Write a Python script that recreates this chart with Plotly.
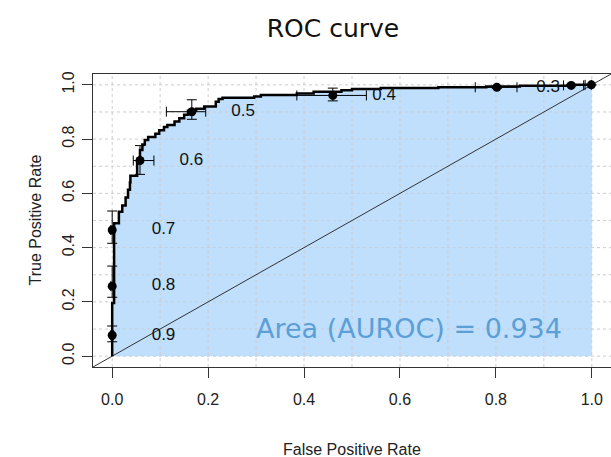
import plotly.graph_objects as go

# ROC curve vertices (step curve, vertical-then-horizontal)
roc_fpr = [0.0, 0.004, 0.014, 0.021, 0.028, 0.033, 0.037, 0.038, 0.052, 0.058, 0.063, 0.068,
           0.075, 0.090, 0.098, 0.108, 0.115, 0.130, 0.140, 0.150, 0.158, 0.175, 0.192, 0.216,
           0.222, 0.230, 0.296, 0.310, 0.385, 0.420, 0.478, 0.500, 0.560, 0.680, 0.780, 0.850,
           0.950, 1.0]
roc_tpr = [0.0, 0.196, 0.490, 0.532, 0.555, 0.585, 0.613, 0.640, 0.665, 0.720, 0.760, 0.780,
           0.797, 0.808, 0.820, 0.833, 0.845, 0.852, 0.865, 0.877, 0.890, 0.905, 0.912, 0.920,
           0.938, 0.948, 0.952, 0.957, 0.963, 0.968, 0.975, 0.980, 0.985, 0.988, 0.991, 0.994,
           0.997, 1.0]

# cutoff points with error bars
cutoffs = [0.9, 0.8, 0.7, 0.6, 0.5, 0.4, 0.3, 0.2, 0.1]
cut_fpr = [0.0, 0.0, 0.0, 0.058, 0.166, 0.460, 0.802, 0.957, 0.999]
cut_tpr = [0.077, 0.258, 0.465, 0.721, 0.901, 0.961, 0.991, 0.998, 1.0]
tpr_err_plus = [0.034, 0.074, 0.070, 0.055, 0.044, 0.027, 0.004, 0.002, 0.0]
tpr_err_minus = [0.024, 0.041, 0.049, 0.051, 0.028, 0.020, 0.004, 0.002, 0.0]
fpr_err_plus = [0.003, 0.003, 0.003, 0.029, 0.029, 0.070, 0.042, 0.026, 0.0]
fpr_err_minus = [0.003, 0.003, 0.003, 0.014, 0.053, 0.075, 0.045, 0.016, 0.013]

auroc = 0.934
tick_vals = [0.0, 0.2, 0.4, 0.6, 0.8, 1.0]
tick_text = ["0.0", "0.2", "0.4", "0.6", "0.8", "1.0"]
grid_vals = [0.0, 0.1, 0.2, 0.3, 0.4, 0.5, 0.6, 0.7, 0.8, 0.9, 1.0]

ax_range = [-0.04, 1.04]
label_offset = 0.107

fig = go.Figure()

# filled area under the curve
fig.add_trace(go.Scatter(
    x=roc_fpr, y=roc_tpr, mode="lines", line=dict(color="rgba(0,0,0,0)", width=0, shape="vh"),
    fill="tozeroy", fillcolor="#BFDFFD", hoverinfo="skip", showlegend=False))

# dotted grid drawn over the fill
gx, gy = [], []
for g in grid_vals:
    gx += [g, g, None, ax_range[0], ax_range[1], None]
    gy += [ax_range[0], ax_range[1], None, g, g, None]
fig.add_trace(go.Scatter(x=gx, y=gy, mode="lines", line=dict(color="#cdcdcd", width=1, dash="dot"),
                         hoverinfo="skip", showlegend=False))

# diagonal reference line
fig.add_trace(go.Scatter(x=ax_range, y=ax_range, mode="lines", line=dict(color="#333", width=1),
                         hoverinfo="skip", showlegend=False))

# ROC curve
fig.add_trace(go.Scatter(
    x=roc_fpr, y=roc_tpr, mode="lines", line=dict(color="black", width=2.5, shape="vh"),
    hoverinfo="skip", showlegend=False))

fig.add_trace(go.Scatter(
    x=cut_fpr, y=cut_tpr, mode="markers",
    marker=dict(color="black", size=9),
    error_y=dict(type="data", symmetric=False, array=tpr_err_plus, arrayminus=tpr_err_minus,
                 color="black", thickness=1, width=5),
    error_x=dict(type="data", symmetric=False, array=fpr_err_plus, arrayminus=fpr_err_minus,
                 color="black", thickness=1, width=5),
    showlegend=False))

# cutoff labels (those whose position falls outside the plot are clipped, as in the original)
lab_x, lab_y, lab_t = [], [], []
for c, fx, ty in zip(cutoffs, cut_fpr, cut_tpr):
    if fx + label_offset + 0.02 <= ax_range[1]:
        lab_x.append(fx + label_offset)
        lab_y.append(ty)
        lab_t.append(f"{c:.1f}")
fig.add_trace(go.Scatter(
    x=lab_x, y=lab_y, mode="text", text=lab_t, textposition="middle center",
    textfont=dict(family="Liberation Sans, Arial", size=17, color="#111"),
    cliponaxis=True, showlegend=False))

axis_common = dict(range=ax_range, tickvals=tick_vals, ticktext=tick_text, showgrid=False,
                   zeroline=False, showline=True, mirror=True, linecolor="#333", linewidth=1,
                   ticks="outside", ticklen=10, tickcolor="#333", automargin=False,
                   tickfont=dict(family="Liberation Sans, Arial", size=16, color="#222"))

fig.update_layout(
    width=611, height=457,
    margin=dict(l=93, r=0, t=74, b=90, autoexpand=False),
    paper_bgcolor="white", plot_bgcolor="white",
    template="none",
    title=dict(text="ROC curve", x=333 / 611, xref="container", xanchor="center",
               y=1 - 28 / 457, yref="container", yanchor="middle",
               font=dict(family="DejaVu Sans", size=25, color="#111")),
    xaxis=dict(**axis_common, ticklabelstandoff=8),
    yaxis=dict(**axis_common, tickangle=-90, ticklabelstandoff=2),
    annotations=[
        dict(text=f"Area (AUROC) = {auroc}", x=0.618, y=0.103, xref="x", yref="y",
             showarrow=False, font=dict(family="DejaVu Sans", size=27, color="#5B9FD6")),
        dict(text="False Positive Rate", x=0.5, y=0, xref="paper", yref="paper",
             yanchor="middle", yshift=-82, showarrow=False,
             font=dict(family="Liberation Sans, Arial", size=16, color="#222")),
        dict(text="True Positive Rate", x=0, y=0.5, xref="paper", yref="paper",
             xanchor="center", xshift=-58, textangle=-90, showarrow=False,
             font=dict(family="Liberation Sans, Arial", size=16, color="#222")),
    ],
)

fig.write_html("out.html", config={"displayModeBar": False},
               post_script="document.body.style.margin='0';document.body.style.overflow='hidden';")
